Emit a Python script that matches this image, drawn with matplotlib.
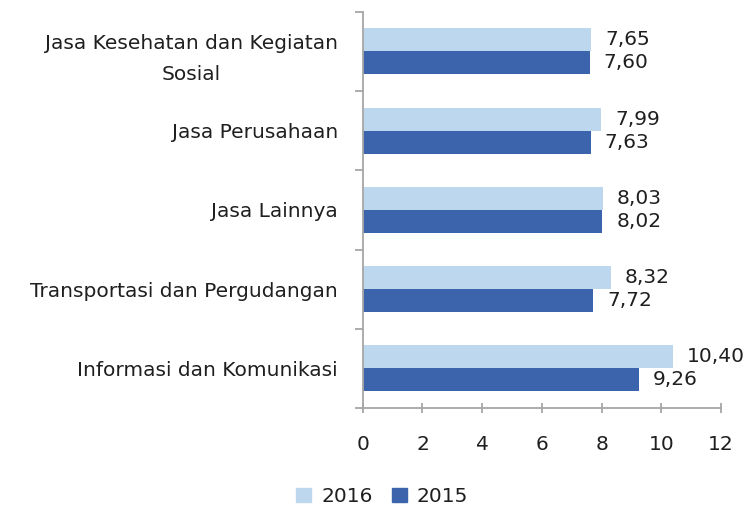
import matplotlib
matplotlib.use("Agg")
import matplotlib.pyplot as plt
import numpy as np
from matplotlib.patches import Patch

categories = ["Jasa Kesehatan dan Kegiatan\nSosial", "Jasa Perusahaan", "Jasa Lainnya",
              "Transportasi dan Pergudangan", "Informasi dan Komunikasi"]
v2016 = [7.65, 7.99, 8.03, 8.32, 10.40]
v2015 = [7.60, 7.63, 8.02, 7.72, 9.26]
xticks = [0, 2, 4, 6, 8, 10, 12]

c16 = "#BDD7EE"
c15 = "#3C64AD"
tc = "#1F1F1F"
fs = 14.5
plt.rcParams['font.family'] = ['DejaVu Sans']

fig = plt.figure(figsize=(7.48, 5.12), dpi=100)
ax = fig.add_axes([0.485, 0.203, 0.479, 0.774])

n = len(categories)
y = np.arange(n)
h = 0.29
b16 = ax.barh(y - h/2, v2016, height=h, color=c16)
b15 = ax.barh(y + h/2, v2015, height=h, color=c15)

def fmt(v):
    return f"{v:.2f}".replace(".", ",")

for bars, vals in ((b16, v2016), (b15, v2015)):
    for b, v in zip(bars, vals):
        ax.annotate(fmt(v), (b.get_width(), b.get_y() + b.get_height()/2),
                    xytext=(10, 0), textcoords="offset points", ha="left", va="center",
                    fontsize=fs, color=tc, annotation_clip=False)

ax.set_ylim(n - 0.5, -0.5)
ax.set_xlim(0, 12)
ax.set_xticks(xticks)
ax.set_xticklabels([str(t) for t in xticks], fontsize=fs, color=tc)
ax.set_yticks(y)
ax.set_yticklabels(categories, fontsize=fs, color=tc, ha="right", multialignment="center",
                   linespacing=1.8)
ax.set_yticks(np.arange(-0.5, n, 1), minor=True)
ax.tick_params(axis="y", which="major", length=0, pad=18)
ax.tick_params(axis="y", which="minor", length=6, color="#A6A6A6", width=1.3)
ax.tick_params(axis="x", length=7, color="#A6A6A6", width=1.3, pad=16, direction="inout")
for s in ["top", "right"]:
    ax.spines[s].set_visible(False)
for s in ["left", "bottom"]:
    ax.spines[s].set_color("#A6A6A6")
    ax.spines[s].set_linewidth(1.3)

handles = [Patch(color=c16, label="2016"), Patch(color=c15, label="2015")]
fig.legend(handles=handles, loc="center", bbox_to_anchor=(0.511, 0.03), ncol=2, frameon=False,
           fontsize=fs, handlelength=0.75, handleheight=0.75, handletextpad=0.5, columnspacing=0.95,
           labelcolor=tc)

fig.savefig("out.png", dpi=100)
